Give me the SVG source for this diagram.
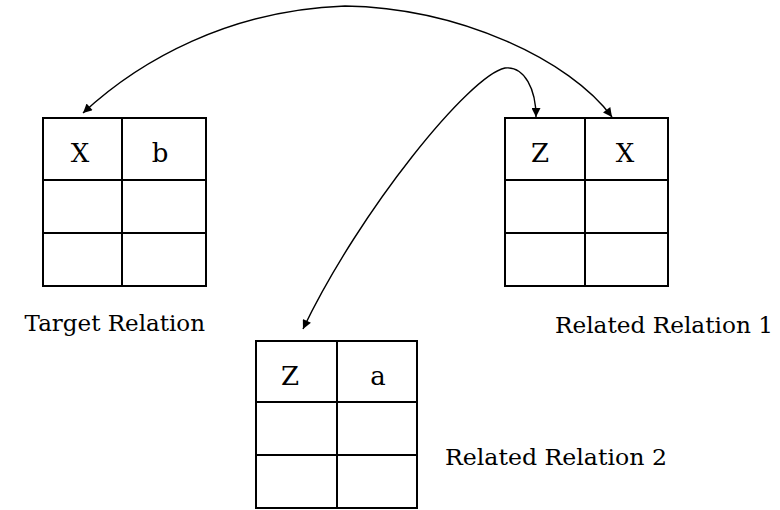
<svg xmlns="http://www.w3.org/2000/svg" width="780" height="510" viewBox="0 0 780 510">
<style>
.grid{fill:none;stroke:#000;stroke-width:2}
.cell{font-family:"DejaVu Serif","Liberation Serif",serif;font-size:26px;fill:#000;text-anchor:middle}
.lbl{font-family:"DejaVu Serif","Liberation Serif",serif;font-size:23px;fill:#000}
.conn{fill:none;stroke:#000;stroke-width:1.4}
</style>
<defs>
<marker id="ah" viewBox="0 0 10 10" refX="10" refY="5" markerWidth="11" markerHeight="9" markerUnits="userSpaceOnUse" orient="auto-start-reverse">
<path d="M0,0 L10,5 L0,10 z" fill="#000"/>
</marker>
</defs>
<rect width="780" height="510" fill="#fff"/>
<g id="target">
<rect class="grid" x="43" y="118" width="163" height="168"/>
<path class="grid" d="M122,118 V286 M43,180 H206 M43,233 H206"/>
<text class="cell" x="80" y="162">X</text>
<text class="cell" x="160" y="162">b</text>
<text class="lbl" x="205" y="331" text-anchor="end">Target Relation</text>
</g>
<g id="related1">
<rect class="grid" x="505" y="118" width="163" height="168"/>
<path class="grid" d="M585,118 V286 M505,180 H668 M505,233 H668"/>
<text class="cell" x="540" y="162">Z</text>
<text class="cell" x="625" y="162">X</text>
<text class="lbl" x="555" y="333" textLength="218" lengthAdjust="spacingAndGlyphs">Related Relation 1</text>
</g>
<g id="related2">
<rect class="grid" x="256" y="341" width="161" height="167"/>
<path class="grid" d="M337,341 V508 M256,402 H417 M256,455 H417"/>
<text class="cell" x="290" y="385">Z</text>
<text class="cell" x="378" y="385">a</text>
<text class="lbl" x="445" y="465" textLength="222" lengthAdjust="spacingAndGlyphs">Related Relation 2</text>
</g>
<g id="connectors">
<path class="conn" marker-start="url(#ah)" marker-end="url(#ah)" d="M83,113 C140,60 230,10 345,6 C460,8 570,60 612,117"/>
<path class="conn" marker-start="url(#ah)" marker-end="url(#ah)" d="M303,329 C360,210 470,75 505,68 C525,66 536,90 536,117"/>
</g>
</svg>
